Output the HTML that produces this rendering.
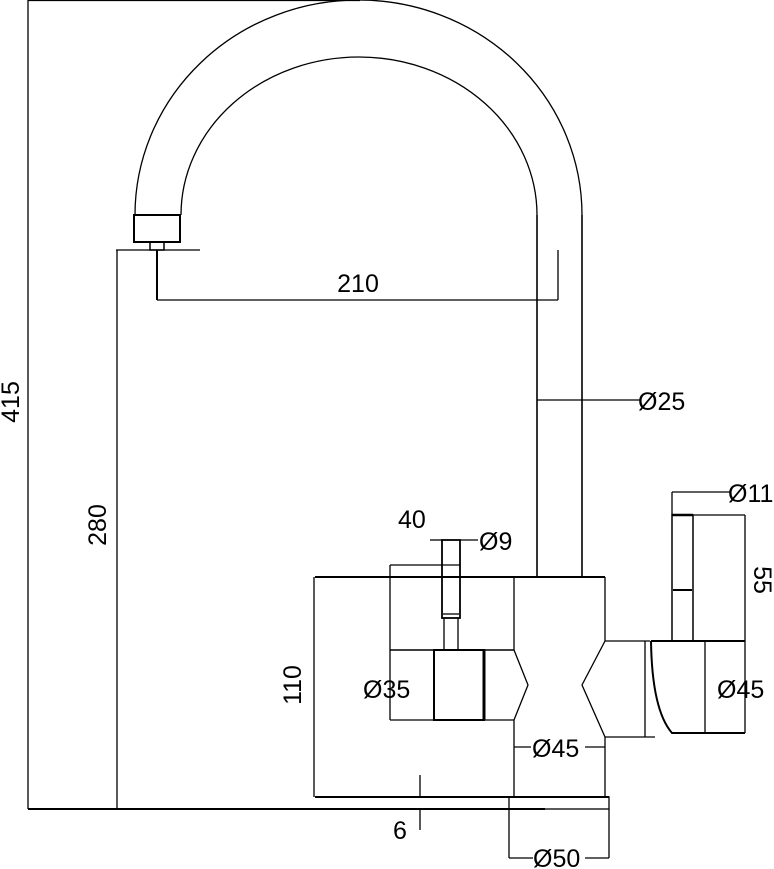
<!DOCTYPE html>
<html><head><meta charset="utf-8"><style>
html,body{margin:0;padding:0;background:#fff;}
svg{display:block;}
text{font-family:"Liberation Sans",sans-serif;font-size:25px;fill:#000;}
</style></head><body>
<svg width="774" height="869" viewBox="0 0 774 869" xmlns="http://www.w3.org/2000/svg">
<g fill="none" stroke="#000" stroke-width="1.3">
<path d="M135 215 A223.5 215 0 0 1 582 215"/>
<path d="M181 215 A178 158 0 0 1 537 215"/>
<line x1="28" y1="0.5" x2="360" y2="0.5"/>
<rect x="134" y="215" width="46" height="27" stroke-width="2"/>
<rect x="150" y="242" width="14" height="8" stroke-width="1.5"/>
<line x1="116" y1="250" x2="200" y2="250"/>
<line x1="157" y1="250" x2="157" y2="300" stroke-width="2"/>
<line x1="157" y1="300" x2="558" y2="300"/>
<line x1="558" y1="250" x2="558" y2="300"/>
<line x1="537" y1="215" x2="537" y2="577" stroke-width="1.6"/>
<line x1="582" y1="215" x2="582" y2="577" stroke-width="1.6"/>
<line x1="537" y1="400" x2="640" y2="400"/>
<line x1="315" y1="577" x2="605" y2="577" stroke-width="2"/>
<polyline points="514,577 514,650 528,685 514,720 514,797"/>
<polyline points="605,577 605,641 582,685 605,737 605,797"/>
<line x1="605" y1="641" x2="650" y2="641"/>
<line x1="605" y1="737" x2="655" y2="737"/>
<line x1="645" y1="641" x2="645" y2="737"/>
<line x1="390" y1="650" x2="514" y2="650" stroke-width="1.6"/>
<line x1="390" y1="720" x2="514" y2="720" stroke-width="1.3"/>
<rect x="434" y="650" width="50" height="70" stroke-width="2"/>
<line x1="484" y1="650" x2="484" y2="720" stroke-width="3"/>
<rect x="442" y="540" width="18" height="78" stroke-width="1.8"/>
<line x1="443" y1="614" x2="459" y2="614"/>
<line x1="444" y1="618" x2="444" y2="650"/>
<line x1="458" y1="618" x2="458" y2="650"/>
<line x1="430" y1="540" x2="442" y2="540"/>
<line x1="460" y1="540" x2="478" y2="540"/>
<line x1="390" y1="565" x2="460" y2="565"/>
<line x1="390" y1="565" x2="390" y2="720"/>
<path d="M651 641 L745 641 M651 641 Q652 710 672 733 L745 733" stroke-width="2"/>
<line x1="705" y1="641" x2="705" y2="733"/>
<rect x="672" y="515" width="21" height="126" stroke-width="1.5"/>
<line x1="672" y1="515" x2="693" y2="515" stroke-width="2.5"/>
<line x1="673" y1="590" x2="692" y2="590" stroke-width="2"/>
<line x1="672" y1="492" x2="730" y2="492"/>
<line x1="672" y1="492" x2="672" y2="515"/>
<line x1="693" y1="515" x2="745" y2="515"/>
<line x1="745" y1="515" x2="745" y2="733"/>
<line x1="315" y1="797" x2="609" y2="797" stroke-width="2"/>
<rect x="509" y="797" width="100" height="12"/>
<line x1="28" y1="809" x2="545" y2="809" stroke-width="2"/>
<line x1="509" y1="809" x2="509" y2="858"/>
<line x1="609" y1="809" x2="609" y2="858"/>
<line x1="509" y1="858" x2="533" y2="858"/>
<line x1="585" y1="858" x2="609" y2="858"/>
<line x1="514" y1="747" x2="531" y2="747"/>
<line x1="585" y1="747" x2="605" y2="747"/>
<line x1="420" y1="775" x2="420" y2="797"/>
<line x1="420" y1="809" x2="420" y2="830"/>
<line x1="28" y1="0" x2="28" y2="809"/>
<line x1="117" y1="250" x2="117" y2="809"/>
<line x1="314" y1="577" x2="314" y2="797"/>
</g>
<text x="358" y="292" text-anchor="middle">210</text>
<text x="638" y="410">Ø25</text>
<text x="398" y="528">40</text>
<text x="479" y="550">Ø9</text>
<text x="728" y="502">Ø11</text>
<text x="363" y="698">Ø35</text>
<text x="717" y="698">Ø45</text>
<text x="532" y="757">Ø45</text>
<text x="533" y="867">Ø50</text>
<text x="393" y="839">6</text>
<text transform="translate(19,402) rotate(-90)" text-anchor="middle">415</text>
<text transform="translate(106,525) rotate(-90)" text-anchor="middle">280</text>
<text transform="translate(301,685) rotate(-90)" text-anchor="middle">110</text>
<text transform="translate(754,580) rotate(90)" text-anchor="middle">55</text>
</svg>
</body></html>
